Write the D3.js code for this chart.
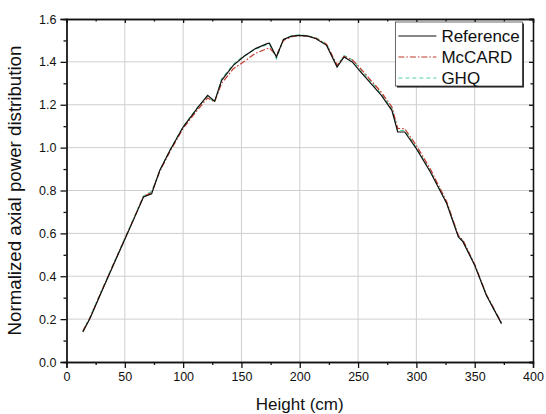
<!DOCTYPE html>
<html>
<head>
<meta charset="utf-8">
<script src="https://cdn.jsdelivr.net/npm/d3@7"></script>
<style>
  body { margin: 0; background: #fff; }
  text { font-family: "Liberation Sans", Arial, sans-serif; fill: #111; }
</style>
</head>
<body>
<script>
const svgWidth = 546
const svgHeight = 414

const margin = { top: 19, right: 13, bottom: 52, left: 66.5 }

const chartWidth = svgWidth - margin.left - margin.right
const chartHeight = svgHeight - margin.top - margin.bottom

// heights (cm) shared by the three curves
const heights = [14, 20, 30, 40, 49, 58, 66, 73, 80, 89, 100, 113, 121, 127, 133, 143, 152, 162, 172, 174, 180, 186, 193, 200, 207, 214, 223, 232, 238, 245, 252, 260, 270, 279, 284, 290, 300, 312, 326, 336, 340, 350, 360, 373]

const referenceVals = [0.140, 0.202, 0.327, 0.450, 0.560, 0.670, 0.770, 0.785, 0.894, 0.990, 1.096, 1.190, 1.244, 1.216, 1.314, 1.384, 1.425, 1.462, 1.485, 1.487, 1.423, 1.505, 1.520, 1.524, 1.520, 1.508, 1.477, 1.376, 1.423, 1.400, 1.355, 1.306, 1.244, 1.174, 1.073, 1.073, 0.995, 0.886, 0.739, 0.583, 0.560, 0.451, 0.311, 0.179]
const mccardVals = [0.145, 0.205, 0.330, 0.452, 0.562, 0.672, 0.772, 0.790, 0.890, 0.985, 1.090, 1.180, 1.232, 1.214, 1.300, 1.368, 1.400, 1.440, 1.462, 1.465, 1.430, 1.500, 1.518, 1.522, 1.520, 1.510, 1.482, 1.385, 1.425, 1.410, 1.370, 1.320, 1.258, 1.190, 1.090, 1.088, 1.010, 0.900, 0.748, 0.590, 0.568, 0.455, 0.315, 0.182]
const ghqVals = [0.142, 0.207, 0.332, 0.455, 0.565, 0.675, 0.775, 0.795, 0.892, 0.992, 1.098, 1.192, 1.240, 1.210, 1.320, 1.388, 1.428, 1.460, 1.480, 1.482, 1.415, 1.505, 1.522, 1.526, 1.522, 1.512, 1.482, 1.380, 1.430, 1.410, 1.365, 1.315, 1.250, 1.180, 1.080, 1.080, 1.000, 0.890, 0.742, 0.588, 0.565, 0.453, 0.312, 0.178]

const xTicks = [0, 50, 100, 150, 200, 250, 300, 350, 400]
const yTicks = [0.0, 0.2, 0.4, 0.6, 0.8, 1.0, 1.2, 1.4, 1.6]

const series = [
  { name: "Reference", values: referenceVals, color: "#111111", dash: null, width: 1.2 },
  { name: "McCARD", values: mccardVals, color: "#c0392b", dash: "6,2,1.5,2", width: 1.2 },
  { name: "GHQ", values: ghqVals, color: "#4fd39a", dash: "4,3", width: 1.2 }
]

const svg = d3.select("body").append("svg")
  .attr("width", svgWidth)
  .attr("height", svgHeight)

const chartG = svg.append("g")
  .attr("transform", `translate(${margin.left}, ${margin.top})`)

const x = d3.scaleLinear().domain([0, 400]).range([0, chartWidth])
const y = d3.scaleLinear().domain([0, 1.6]).range([chartHeight, 0])

// grid
chartG.append("g")
  .selectAll("line")
  .data(xTicks.slice(1, -1))
  .join("line")
  .attr("x1", d => x(d)).attr("x2", d => x(d))
  .attr("y1", 0).attr("y2", chartHeight)
  .attr("stroke", "#cfcfcf")

chartG.append("g")
  .selectAll("line")
  .data(yTicks.slice(1, -1))
  .join("line")
  .attr("y1", d => y(d)).attr("y2", d => y(d))
  .attr("x1", 0).attr("x2", chartWidth)
  .attr("stroke", "#cfcfcf")

// axes
const xMinor = d3.range(25, 400, 50)
const yMinor = d3.range(0.1, 1.6, 0.2)

const xAxis = d3.axisBottom(x).tickValues(xTicks).tickFormat(d3.format("d")).tickSize(6).tickPadding(4)
const yAxis = d3.axisLeft(y).tickValues(yTicks).tickFormat(d3.format(".1f")).tickSize(6).tickPadding(4)

function styleAxis(g) {
  g.select(".domain").attr("stroke", "#111").attr("stroke-width", 1.3)
  g.selectAll(".tick line").attr("stroke", "#111").attr("stroke-width", 1.3)
  g.selectAll(".tick text").attr("font-size", 12.5).attr("fill", "#222")
    .attr("font-family", "'Liberation Sans', Arial, sans-serif")
}

chartG.append("g")
  .attr("transform", `translate(0, ${chartHeight})`)
  .call(xAxis)
  .call(styleAxis)

chartG.append("g")
  .attr("transform", `translate(0, ${chartHeight})`)
  .call(d3.axisBottom(x).tickValues(xMinor).tickSize(3).tickFormat(""))
  .call(styleAxis)

chartG.append("g")
  .call(yAxis)
  .call(styleAxis)

chartG.append("g")
  .call(d3.axisLeft(y).tickValues(yMinor).tickSize(3).tickFormat(""))
  .call(styleAxis)

// mirrored top / right axes, ticks pointing inward
chartG.append("g")
  .call(d3.axisBottom(x).tickValues(xTicks).tickSize(4).tickFormat(""))
  .call(styleAxis)
chartG.append("g")
  .call(d3.axisBottom(x).tickValues(xMinor).tickSize(2.5).tickFormat(""))
  .call(styleAxis)
chartG.append("g")
  .attr("transform", `translate(${chartWidth}, 0)`)
  .call(d3.axisLeft(y).tickValues(yTicks).tickSize(4).tickFormat(""))
  .call(styleAxis)
chartG.append("g")
  .attr("transform", `translate(${chartWidth}, 0)`)
  .call(d3.axisLeft(y).tickValues(yMinor).tickSize(2.5).tickFormat(""))
  .call(styleAxis)

// lines
const line = d3.line()
  .x((d, i) => x(heights[i]))
  .y(d => y(d))

series.slice().reverse().forEach(s => {
  chartG.append("path")
    .attr("d", line(s.values))
    .attr("fill", "none")
    .attr("stroke", s.color)
    .attr("stroke-width", s.width)
    .attr("stroke-dasharray", s.dash)
})

// legend
const legend = chartG.append("g")
  .attr("transform", `translate(${x(282)}, 3)`)

legend.append("rect")
  .attr("x", 1.5).attr("y", 1.5)
  .attr("width", 127).attr("height", 64)
  .attr("fill", "#111")
legend.append("rect")
  .attr("width", 127).attr("height", 64)
  .attr("fill", "#fff")
  .attr("stroke", "#444")
  .attr("stroke-width", 0.8)

series.forEach((s, i) => {
  const row = legend.append("g").attr("transform", `translate(0, ${14 + i * 21})`)
  row.append("line")
    .attr("x1", 3).attr("x2", 41)
    .attr("stroke", s.color)
    .attr("stroke-width", s.width)
    .attr("stroke-dasharray", s.dash)
  row.append("text")
    .attr("x", 46).attr("dy", "0.35em")
    .attr("font-size", 17)
    .text(s.name)
})

// axis titles
svg.append("text")
  .attr("x", margin.left + chartWidth / 2)
  .attr("y", 410)
  .attr("text-anchor", "middle")
  .attr("font-size", 17)
  .text("Height (cm)")

svg.append("text")
  .attr("transform", `translate(21, ${margin.top + chartHeight / 2}) rotate(-90)`)
  .attr("text-anchor", "middle")
  .attr("font-size", 18.7)
  .text("Normalized axial power distribution")
</script>
</body>
</html>
